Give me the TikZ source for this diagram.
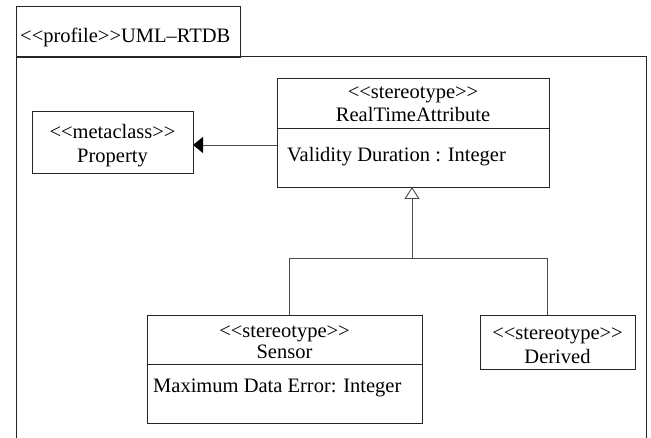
\documentclass[tikz,border=0pt]{standalone}
\usepackage{fontspec}
\setmainfont{Liberation Serif}
\usetikzlibrary{arrows.meta}
\newcommand{\dlt}{<\kern0pt<}
\newcommand{\dgt}{>\kern0pt>}
\begin{document}
\begin{tikzpicture}[x=1pt,y=-1pt,
  box/.style={draw=black!85, line width=0.9pt, inner sep=0pt, outer sep=0pt, fill=white},
  txt/.style={font=\fontsize{20.5}{23}\selectfont, inner sep=0pt, text=black},
  conn/.style={draw=black!70, line width=0.9pt},
  framel/.style={draw=black!85, line width=1pt}]
\useasboundingbox (0,0) rectangle (651,438);
\fill[white] (0,0) rectangle (651,438);
% package frame
\node[box, minimum width=224pt, minimum height=51pt] (tab) at (128,31.5) {};
\draw[framel] (16,445) coordinate (fl) -- (16,57) -- (646,57) -- (646,445) coordinate (fr);
\node[txt, anchor=base west] (tabtxt) at (20,43) {\dlt profile\dgt UML–RTDB};
% Property
\node[box, minimum width=161pt, minimum height=62pt] (prop) at (112.5,142) {};
\node[txt, anchor=base] (prop1) at (112.5,139) {\dlt metaclass\dgt};
\node[txt, anchor=base] (prop2) at (112.5,163) {Property};
% RealTimeAttribute
\node[box, minimum width=272pt, minimum height=50pt] (rtah) at (413,103) {};
\node[box, minimum width=272pt, minimum height=59pt] (rtaa) at (413,157.5) {};
\node[txt, anchor=base] (rta1) at (413,99) {\dlt stereotype\dgt};
\node[txt, anchor=base] (rta2) at (413,122) {RealTimeAttribute};
\node[txt, anchor=base west] (rta3) at (287,162) {Validity Duration : Integer};
% Sensor
\node[box, minimum width=275pt, minimum height=49pt] (senh) at (284.5,339.5) {};
\node[box, minimum width=275pt, minimum height=59pt] (sena) at (284.5,393.5) {};
\node[txt, anchor=base] (sen1) at (284.5,338) {\dlt stereotype\dgt};
\node[txt, anchor=base] (sen2) at (284.5,359) {Sensor};
\node[txt, anchor=base west] (sen3) at (153,392) {Maximum Data Error: Integer};
% Derived
\node[box, minimum width=155pt, minimum height=54pt] (der) at (557.5,342) {};
\node[txt, anchor=base] (der1) at (557.5,340) {\dlt stereotype\dgt};
\node[txt, anchor=base] (der2) at (557.5,364) {Derived};
% connectors
\coordinate (pa) at ([yshift=-3pt]prop.east);
\draw[conn, -{Triangle[length=10pt,width=16pt,color=black]}] (rtaa.west |- pa) -- (pa);
\coordinate (j) at (412,258);
\coordinate (sx) at (289,258);
\coordinate (dx) at (547,258);
\draw[conn, -{Triangle[open,length=12pt,width=15pt,line width=0.9pt]}] (j) -- (j |- rtaa.south);
\draw[conn] (senh.north -| sx) -- (sx) -- (dx) -- (dx |- der.north);
\end{tikzpicture}
\end{document}
